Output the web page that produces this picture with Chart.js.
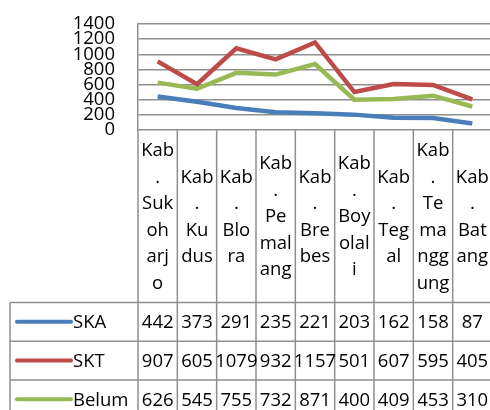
<!DOCTYPE html>
<html>
<head>
<meta charset="utf-8">
<script src="https://cdn.jsdelivr.net/npm/chart.js@4.4.0/dist/chart.umd.min.js"></script>
<style>
html, body { margin: 0; padding: 0; background: #fff; overflow: hidden; }
#wrap { width: 492px; height: 410px; }
</style>
</head>
<body>
<div id="wrap"><canvas id="grafico"></canvas></div>
<script>
// Data kabupaten (label sudah dipotong per baris seperti di gambar)
const kabupaten = [
    ['Kab', '.', 'Suk', 'oh', 'arj', 'o'],
    ['Kab', '.', 'Ku', 'dus'],
    ['Kab', '.', 'Blo', 'ra'],
    ['Kab', '.', 'Pe', 'mal', 'ang'],
    ['Kab', '.', 'Bre', 'bes'],
    ['Kab', '.', 'Boy', 'olal', 'i'],
    ['Kab', '.', 'Teg', 'al'],
    ['Kab', '.', 'Te', 'ma', 'ngg', 'ung'],
    ['Kab', '.', 'Bat', 'ang']
];
const nilaiSKA = [442, 373, 291, 235, 221, 203, 162, 158, 87];
const nilaiSKT = [907, 605, 1079, 932, 1157, 501, 607, 595, 405];
const nilaiBelum = [626, 545, 755, 732, 871, 400, 409, 453, 310];
const namaSeri = ['SKA', 'SKT', 'Belum'];
const ticksY = [0, 200, 400, 600, 800, 1000, 1200, 1400];

const warna = ['#4a7ebb', '#be4b48', '#98b954'];
const abu = '#8f8f8f';
const huruf = '"Open Sans", sans-serif';
const ukuran = 18.5;

Chart.defaults.font.family = huruf;
Chart.defaults.color = '#000';

//Tabel data di bawah grafik (kategori + nilai)
const tabelData = {
    id: 'tabelData',
    afterDraw(chart) {
        const ctx = chart.ctx;
        const area = chart.chartArea;
        const sx = chart.scales.x;
        const lebar = (area.right - area.left) / kabupaten.length;
        const yTabel = 302.5;
        const tinggi = 38.7;
        const bawah = chart.height;
        const seri = chart.data.datasets;

        ctx.save();
        ctx.strokeStyle = abu;
        ctx.lineWidth = 1.5;

        // garis vertikal
        for (let i = 0; i <= kabupaten.length; i++) {
            let x = area.left + i * lebar;
            ctx.beginPath();
            ctx.moveTo(x, area.bottom);
            ctx.lineTo(x, bawah);
            ctx.stroke();
        }
        ctx.beginPath();
        ctx.moveTo(10, yTabel);
        ctx.lineTo(10, bawah);
        ctx.stroke();

        // garis horizontal
        for (let r = 0; r <= seri.length; r++) {
            let y = yTabel + r * tinggi;
            ctx.beginPath();
            ctx.moveTo(10, y);
            ctx.lineTo(area.right, y);
            ctx.stroke();
        }

        ctx.fillStyle = '#000';
        ctx.font = ukuran + 'px ' + huruf;
        ctx.textAlign = 'center';
        ctx.textBaseline = 'alphabetic';

        // label kategori
        const tengahKat = (area.bottom + yTabel) / 2 + 6;
        const spasi = 26.5;
        kabupaten.forEach(function (baris, i) {
            let x = sx.getPixelForValue(i);
            let y0 = tengahKat - (baris.length - 1) * spasi / 2;
            baris.forEach(function (t, j) {
                ctx.fillText(t, x, y0 + j * spasi);
            });
        });

        // baris nilai + legenda
        seri.forEach(function (ds, r) {
            let yc = yTabel + (r + 0.5) * tinggi;
            ctx.textAlign = 'center';
            ds.data.forEach(function (v, i) {
                ctx.fillText(String(v), sx.getPixelForValue(i), yc + 6.5);
            });
            ctx.strokeStyle = ds.borderColor;
            ctx.lineWidth = 4;
            ctx.lineCap = 'round';
            ctx.beginPath();
            ctx.moveTo(17, yc);
            ctx.lineTo(71, yc);
            ctx.stroke();
            ctx.textAlign = 'left';
            ctx.fillText(ds.label, 73, yc + 6.5);
        });
        ctx.restore();
    }
};

const ctx = document.getElementById('grafico').getContext('2d');
const data = {
    labels: kabupaten,
    datasets: [
        {label: namaSeri[0], data: nilaiSKA, borderColor: warna[0]},
        {label: namaSeri[1], data: nilaiSKT, borderColor: warna[1]},
        {label: namaSeri[2], data: nilaiBelum, borderColor: warna[2]}
    ].map(function (d) {
        d.backgroundColor = d.borderColor;
        d.borderWidth = 4.5;
        d.pointRadius = 0;
        d.tension = 0;
        return d;
    })
};

const config = {
    type: 'line',
    data,
    options: {
        responsive: true,
        maintainAspectRatio: false,
        animation: false,
        layout: {
            padding: {left: 0, right: 0, top: 24, bottom: 280}
        },
        scales: {
            x: {
                display: false,
                offset: true
            },
            y: {
                min: 0,
                max: 1400,
                afterBuildTicks: function (s) {
                    s.ticks = ticksY.map(v => ({value: v}));
                },
                afterFit: function (s) {
                    s.width = 138;
                    s.paddingTop = 0;
                    s.paddingBottom = 0;
                },
                ticks: {
                    padding: 23,
                    autoSkip: false,
                    font: {size: ukuran},
                    color: '#000',
                    callback: function (value) {
                        return String(value);
                    }
                },
                grid: {
                    color: abu,
                    lineWidth: 1.5,
                    drawTicks: false
                },
                border: {
                    display: true,
                    color: abu,
                    width: 1.5
                }
            }
        },
        plugins: {
            legend: {display: false},
            tooltip: {enabled: false}
        }
    },
    plugins: [tabelData]
};
const myChart = new Chart(ctx, config);
</script>
</body>
</html>
